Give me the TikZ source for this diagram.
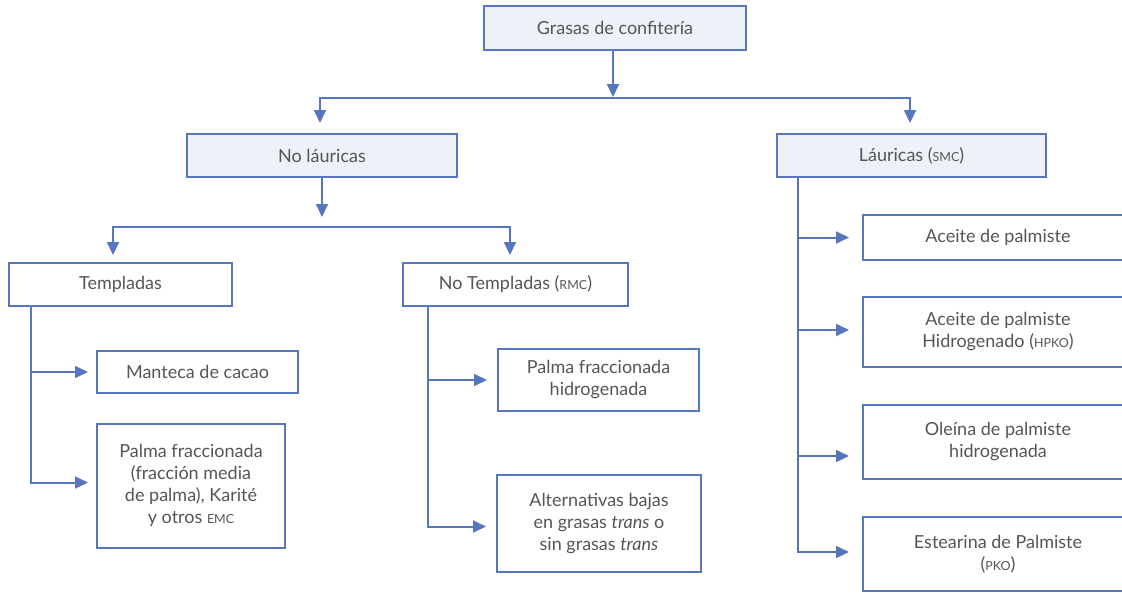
\documentclass[tikz,border=0pt]{standalone}
\usepackage{fontspec}
\setmainfont{Lato}
\usetikzlibrary{arrows.meta}
\definecolor{bc}{RGB}{86,119,191}
\definecolor{tc}{RGB}{85,85,85}
\definecolor{fc}{RGB}{239,241,249}
\newcommand\smc[1]{{\fontsize{12.5}{12.5}\selectfont #1}}
\tikzset{
  box/.style={draw=bc, line width=2pt, text=tc, align=center, inner sep=0pt,
    font=\fontsize{18}{22}\selectfont},
  hbox/.style={box, fill=fc},
  ln/.style={draw=bc, line width=2pt},
  arr/.style={ln, -{Triangle[length=13pt,width=12pt]}},
}
\begin{document}
\begin{tikzpicture}[x=1pt,y=-1pt]
\useasboundingbox (0,0) rectangle (1122,592);
% level 0
\node[hbox, minimum width=262, minimum height=44] (top) at (615,28) {Grasas de confitería};
% level 1
\node[hbox, minimum width=270, minimum height=43] (nol) at (322,155.5) {No láuricas};
\node[hbox, minimum width=269, minimum height=43] (lau) at (911.5,155.5) {Láuricas (\smc{SMC})};
% level 2
\node[box, minimum width=223, minimum height=43] (temp) at (120.5,284.5) {Templadas};
\node[box, minimum width=225, minimum height=43] (notemp) at (515.5,284.5) {No Templadas (\smc{RMC})};
% templadas children
\node[box, minimum width=201, minimum height=42] (mant) at (197.5,372) {Manteca de cacao};
\node[box, minimum width=188, minimum height=124] (pf) at (191,485.5) {Palma fraccionada\\(fracción media\\de palma), Karité\\y otros \smc{EMC}};
% no templadas children
\node[box, minimum width=201, minimum height=62] (pfh) at (598.5,380) {Palma fraccionada\\hidrogenada};
\node[box, minimum width=204, minimum height=97] (alt) at (599,523.5) {Alternativas bajas\\en grasas \textit{trans} o\\sin grasas \textit{trans}};
% lauricas children
\node[box, minimum width=270, minimum height=45] (ap) at (998,237.5) {Aceite de palmiste};
\node[box, minimum width=270, minimum height=70] (aph) at (998,332) {Aceite de palmiste\\Hidrogenado (\smc{HPKO})};
\node[box, minimum width=270, minimum height=74] (ol) at (998,442) {Oleína de palmiste\\hidrogenada};
\node[box, minimum width=270, minimum height=74] (est) at (998,554) {Estearina de Palmiste\\(\smc{PKO})};
% connectors level 0 -> 1
\coordinate (h1) at (613,98);
\draw[arr, shorten >=1pt] ([xshift=-2]top.south) -- (h1);
\draw[arr, shorten >=10pt] (h1) -| ([xshift=-2]nol.north);
\draw[arr, shorten >=10pt] (h1) -| ([xshift=-1.5]lau.north);
% level 1 -> 2
\coordinate (h2) at (322,227);
\draw[arr, shorten >=10pt] (nol.south) -- (h2);
\draw[arr, shorten >=7pt] (h2) -| ([xshift=-7.5]temp.north);
\draw[arr, shorten >=7pt] (h2) -| ([xshift=-5.5]notemp.north);
% templadas branches
\coordinate (tt) at ([xshift=-89.5]temp.south);
\draw[arr, shorten >=8pt] (tt) |- ([yshift=3]pf.west);
\draw[arr, shorten >=8pt] (tt |- mant.west) -- (mant.west);
% no templadas branches
\coordinate (nt) at ([xshift=-87.5]notemp.south);
\draw[arr, shorten >=10pt] (nt) |- ([yshift=-3]alt.west);
\draw[arr, shorten >=10pt] (nt |- pfh.west) -- (pfh.west);
% lauricas branches
\coordinate (lt) at ([xshift=-114]lau.south);
\draw[arr, shorten >=13pt] (lt) |- ([yshift=2]est.west);
\draw[arr, shorten >=13pt] (lt |- ap.west) -- (ap.west);
\draw[arr, shorten >=13pt] ([yshift=2]lt |- aph.west) -- ([yshift=2]aph.west);
\draw[arr, shorten >=13pt] ([yshift=-14]lt |- ol.west) -- ([yshift=-14]ol.west);
\end{tikzpicture}
\end{document}
